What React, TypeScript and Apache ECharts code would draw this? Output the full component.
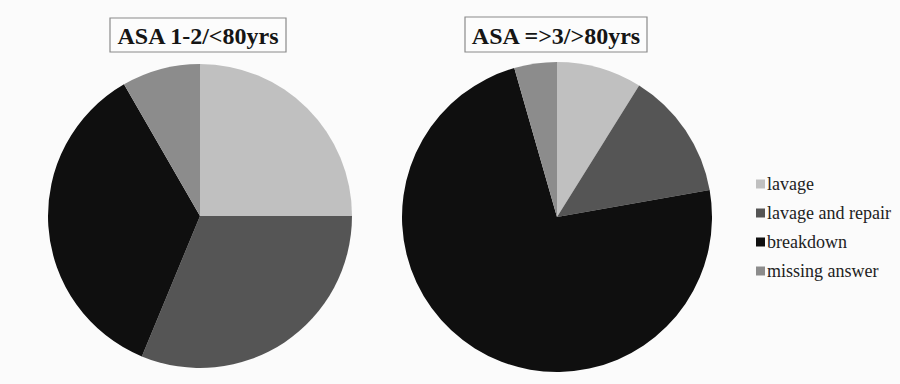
import React, { useEffect, useRef } from "react";
import * as echarts from "echarts";

// Outcome categories shared by both groups
const categories = ["lavage", "lavage and repair", "breakdown", "missing answer"];
// Patient counts per outcome
const youngerValues = [12, 15, 17, 4];
const olderValues = [4, 6, 33, 2];
const groupTitles = ["ASA 1-2/<80yrs", "ASA =>3/>80yrs"];
const sliceColors = ["#c0c0c0", "#555555", "#0f0f0f", "#8c8c8c"];

const SERIF = "Times New Roman, Liberation Serif, DejaVu Serif, serif";

function titleBox(text: string, x: number, y: number, w: number, h: number) {
  return {
    type: "group",
    x,
    y,
    children: [
      {
        type: "rect",
        shape: { x: 0, y: 0, width: w, height: h },
        style: { fill: "#fcfcfc", stroke: "#8a8a8a", lineWidth: 1.2 },
      },
      {
        type: "text",
        x: w / 2,
        y: h / 2 + 1,
        style: {
          text,
          fill: "#151515",
          fontFamily: SERIF,
          fontSize: 24,
          fontWeight: "bold",
          textAlign: "center",
          textVerticalAlign: "middle",
        },
      },
    ],
  };
}

export default function App() {
  const ref = useRef<HTMLDivElement>(null);

  useEffect(() => {
    if (!ref.current) return;
    const chart = echarts.init(ref.current, null, { renderer: "svg" });
    const toData = (vals: number[]) =>
      categories.map((name, i) => ({ name, value: vals[i] }));

    chart.setOption({
      animation: false,
      backgroundColor: "#fbfbfb",
      color: sliceColors,
      legend: {
        orient: "vertical",
        left: 751,
        top: 170,
        data: categories,
        icon: "rect",
        itemWidth: 9,
        itemHeight: 9,
        itemGap: 11,
        selectedMode: false,
        textStyle: {
          fontFamily: SERIF,
          fontSize: 18,
          lineHeight: 18,
          color: "#222",
          padding: [0, 0, 0, -3],
        },
      },
      graphic: [
        titleBox(groupTitles[0], 110, 18, 176, 34),
        titleBox(groupTitles[1], 465, 17, 182, 35),
      ],
      series: [
        {
          type: "pie",
          center: [200, 216],
          radius: 152,
          startAngle: 90,
          clockwise: true,
          label: { show: false },
          labelLine: { show: false },
          emphasis: { disabled: true },
          itemStyle: { borderWidth: 0 },
          data: toData(youngerValues),
        },
        {
          type: "pie",
          center: [557, 217],
          radius: 155,
          startAngle: 90,
          clockwise: true,
          label: { show: false },
          labelLine: { show: false },
          emphasis: { disabled: true },
          itemStyle: { borderWidth: 0 },
          data: toData(olderValues),
        },
      ],
    });

    return () => chart.dispose();
  }, []);

  return (
    <div
      ref={ref}
      style={{ position: "absolute", left: 0, top: 0, width: 900, height: 384 }}
    />
  );
}
